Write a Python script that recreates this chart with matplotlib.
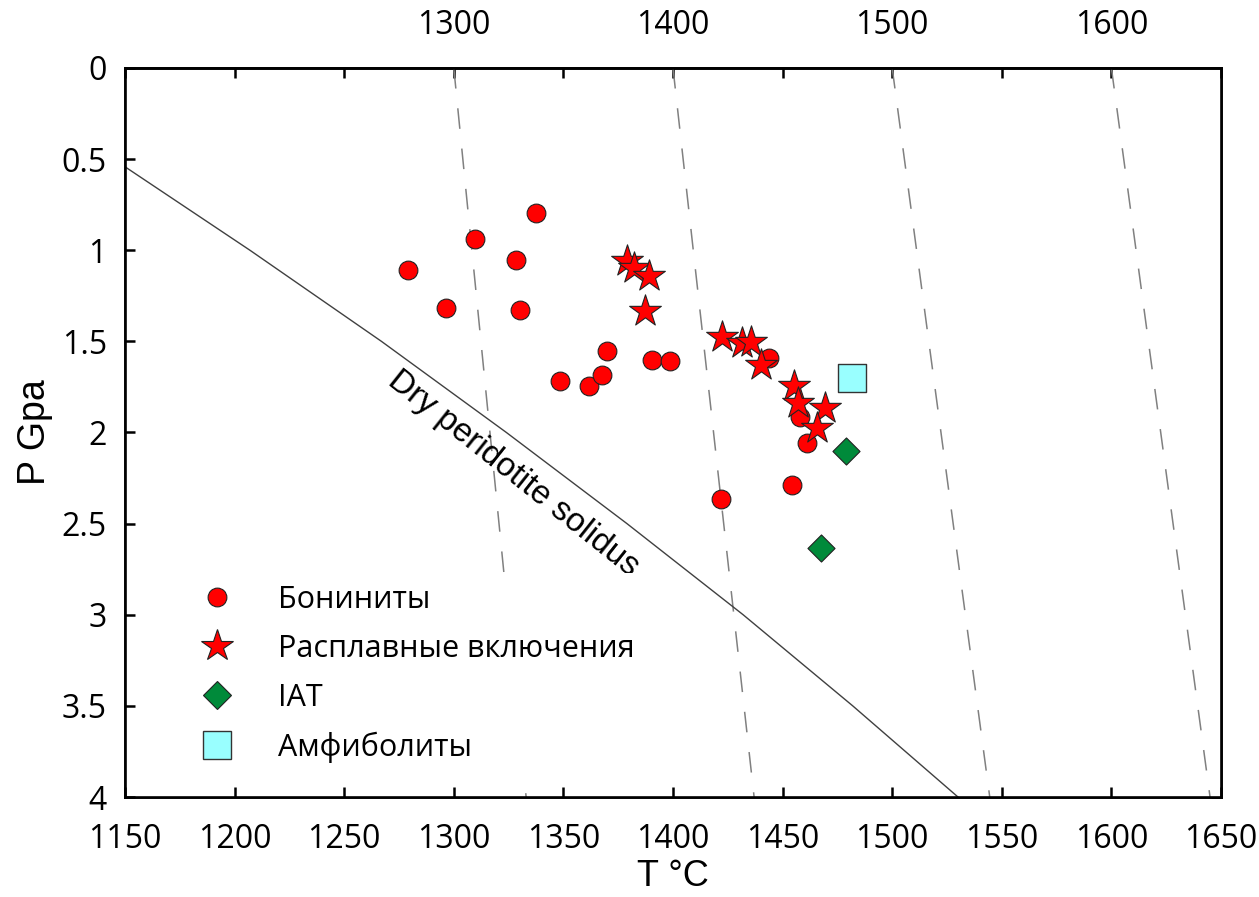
import matplotlib
matplotlib.use('Agg')
from matplotlib import pyplot as plt
from matplotlib.lines import Line2D

# Бониниты (T, P)
bon_T = [1279, 1309.5, 1328.5, 1337.3, 1296.5, 1330.4, 1370, 1348.3, 1361.7, 1367.6,
         1390.6, 1398.5, 1443.8, 1457.8, 1461.3, 1421.7, 1454.2]
bon_P = [1.11, 0.938, 1.055, 0.797, 1.317, 1.33, 1.553, 1.716, 1.745, 1.685,
         1.603, 1.606, 1.593, 1.914, 2.056, 2.367, 2.289]

# Расплавные включения
inc_T = [1379, 1382, 1389, 1387, 1422.2, 1431.7, 1435.8, 1440.3, 1455.2, 1457, 1469.2, 1465.7]
inc_P = [1.06, 1.10, 1.14, 1.335, 1.475, 1.511, 1.502, 1.63, 1.745, 1.84, 1.868, 1.978]

# IAT
iat_T = [1479.1, 1467.7]
iat_P = [2.102, 2.636]

# Амфиболиты
amph_T = [1481.8]
amph_P = [1.703]

# dry peridotite solidus
sol_T = [1150, 1207, 1267, 1324, 1379, 1432, 1482, 1530]
sol_P = [0.542, 1.0, 1.5, 2.0, 2.5, 3.0, 3.5, 4.0]

# adiabats: T at 0 GPa and at 4 GPa
adi_T0 = [1300, 1400, 1500, 1600]
adi_T4 = [1333, 1437, 1544.5, 1645]

TICK_FONT = ['Open Sans', 'DejaVu Sans']
LABEL_FONT = ['Liberation Sans', 'DejaVu Sans']

plt.rcParams['font.family'] = TICK_FONT

fig = plt.figure(figsize=(12.59, 8.97), dpi=100)
ax = fig.add_axes([125/1259, 1-797/897, 1096/1259, 729/897])

for t0, t4 in zip(adi_T0, adi_T4):
    ax.plot([t0, t4], [0, 4], color='#808080', lw=1.1, dashes=(13.5, 13), zorder=1)

ax.plot(sol_T, sol_P, color='#404040', lw=1.0, zorder=2)

ax.scatter(bon_T, bon_P, s=13.5**2, marker='o', facecolor='#ff0000', edgecolor='#222222', linewidths=0.8, zorder=3)
ax.scatter(inc_T, inc_P, s=24**2, marker='*', facecolor='#ff0000', edgecolor='#222222', linewidths=0.8, zorder=4)
ax.scatter(iat_T, iat_P, s=13.8**2, marker='D', facecolor='#008a3a', edgecolor='#222222', linewidths=0.8, zorder=4)
ax.scatter(amph_T, amph_P, s=19.5**2, marker='s', facecolor='#99ffff', edgecolor='#333333', linewidths=1.0, zorder=4)

ax.text(1327, 2.224, 'Dry peridotite solidus', rotation=-38.5, rotation_mode='anchor',
        ha='center', va='center', fontsize=24, family=LABEL_FONT, zorder=5)

ax.set_xlim(1150, 1650)
ax.set_ylim(4, 0)
ax.set_xticks(range(1150, 1651, 50))
ax.set_yticks([0, 0.5, 1, 1.5, 2, 2.5, 3, 3.5, 4])
ax.set_yticklabels(['0', '0.5', '1', '1.5', '2', '2.5', '3', '3.5', '4'])

ax.tick_params(axis='both', direction='in', length=7, width=1.8, labelsize=23)
ax.tick_params(axis='x', pad=19)
ax.tick_params(axis='y', pad=13)
for sp in ax.spines.values():
    sp.set_linewidth(1.9)

ax.set_xlabel('T °C', fontsize=26, family=LABEL_FONT, labelpad=2)
ax.set_ylabel('P Gpa', fontsize=27, family=LABEL_FONT, labelpad=6)

# top axis: same T scale, labels only every 100
top = ax.secondary_xaxis('top')
top.set_xticks(range(1150, 1651, 50))
top.set_xticklabels(['' if t % 100 or t < 1300 else str(t) for t in range(1150, 1651, 50)])
top.tick_params(direction='in', length=7, width=1.8, labelsize=23, pad=19)
top.spines['top'].set_linewidth(1.9)

# right axis: unlabeled ticks (7 divisions)
right = ax.twinx()
right.set_ylim(140, 0)
right.set_yticks(range(0, 141, 20))
right.set_yticklabels([])
right.tick_params(direction='in', length=7, width=1.8)
for sp in right.spines.values():
    sp.set_linewidth(1.9)

handles = [
    Line2D([], [], ls='none', marker='o', ms=13.5, mfc='#ff0000', mec='#222222', mew=0.8),
    Line2D([], [], ls='none', marker='*', ms=24, mfc='#ff0000', mec='#222222', mew=0.8),
    Line2D([], [], ls='none', marker='D', ms=13.8, mfc='#008a3a', mec='#222222', mew=0.8),
    Line2D([], [], ls='none', marker='s', ms=19.5, mfc='#99ffff', mec='#333333', mew=1.0),
]
labels = ['Бониниты', 'Расплавные включения', 'IAT', 'Амфиболиты']
leg = ax.legend(handles, labels, loc='lower left', bbox_to_anchor=(0.055, 0.03),
                fontsize=22, frameon=True, framealpha=1, facecolor='white', edgecolor='none',
                handlelength=1.25, handletextpad=1.4, labelspacing=0.62, borderpad=0.4,
                borderaxespad=0)
leg.set_zorder(6)
right.set_zorder(ax.get_zorder() - 1)
ax.patch.set_visible(True)

plt.savefig('out.png', dpi=100)
